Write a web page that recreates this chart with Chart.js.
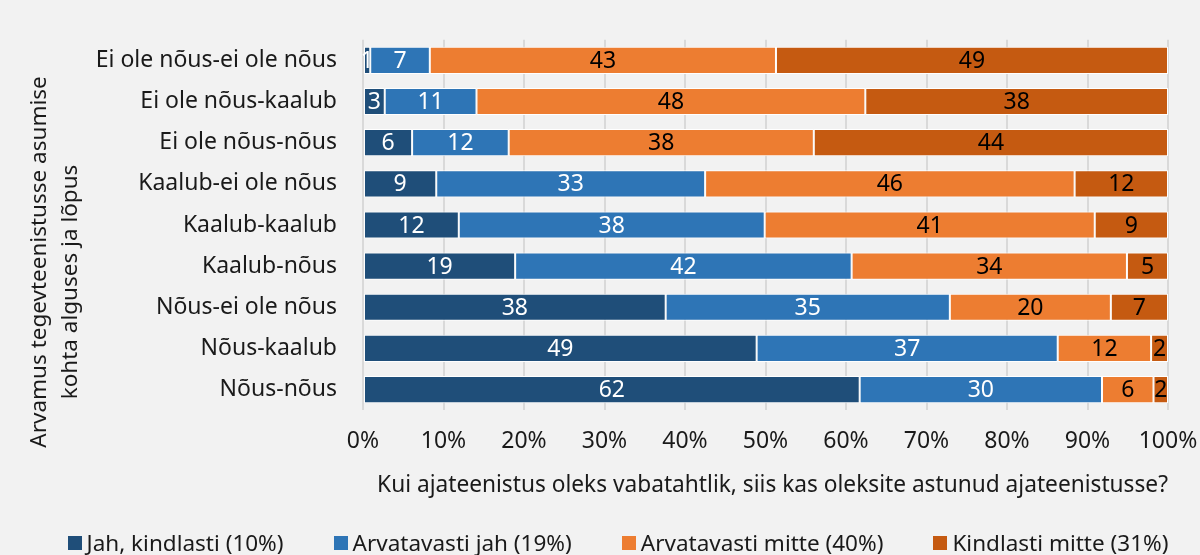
<!DOCTYPE html>
<html>
<head>
<meta charset="utf-8">
<script src="https://cdn.jsdelivr.net/npm/chart.js@4"></script>
<style>
  html, body { margin: 0; padding: 0; background: #f2f2f2; }
  #wrap { position: relative; width: 1200px; height: 555px; overflow: hidden; }
  #chart { display: block; }
  #legend {
    position: absolute; left: 36px; top: 528px; width: 1164px; height: 30px;
    display: flex; justify-content: center; gap: 50px;
    font-family: 'Noto Sans', 'Open Sans', sans-serif; font-size: 22.5px;
    line-height: 30px; color: #1a1a1a; white-space: nowrap;
  }
  #legend .item { display: flex; align-items: center; }
  #legend .box { width: 14px; height: 14px; margin-right: 5px; }
</style>
</head>
<body>
<div id="wrap">
  <canvas id="chart" width="1200" height="555"></canvas>
  <div id="legend"></div>
</div>
<script>
// Categories (top to bottom)
const categories = [
  "Ei ole nõus-ei ole nõus",
  "Ei ole nõus-kaalub",
  "Ei ole nõus-nõus",
  "Kaalub-ei ole nõus",
  "Kaalub-kaalub",
  "Kaalub-nõus",
  "Nõus-ei ole nõus",
  "Nõus-kaalub",
  "Nõus-nõus"
];

// Series shares in percent
const jahKindlasti = [0.9, 2.7, 6.1, 9.1, 11.9, 18.9, 37.6, 48.9, 61.7];
const arvatavastiJah = [7.4, 11.4, 12.0, 33.4, 38.0, 41.8, 35.3, 37.4, 30.1];
const arvatavastiMitte = [43.0, 48.3, 37.9, 45.9, 41.0, 34.2, 20.0, 11.6, 6.4];
const kindlastiMitte = [48.7, 37.6, 44.0, 11.6, 9.1, 5.1, 7.1, 2.1, 1.8];

const seriesNames = [
  "Jah, kindlasti (10%)",
  "Arvatavasti jah (19%)",
  "Arvatavasti mitte (40%)",
  "Kindlasti mitte (31%)"
];
const seriesColors = ["#1f4e79", "#2e75b6", "#ed7d31", "#c55a11"];
const labelColors = ["#ffffff", "#ffffff", "#000000", "#000000"];

const xTicks = [0, 10, 20, 30, 40, 50, 60, 70, 80, 90, 100];
const yTitleLines = ["Arvamus tegevteenistusse asumise", "kohta alguses ja lõpus"];

const fontFamily = "'Noto Sans', 'Open Sans', sans-serif";
const textColor = "#1a1a1a";
const fontSize = 23;

// Draw the rounded value in the middle of each bar segment
const barLabels = {
  id: "barLabels",
  afterDatasetsDraw(chart) {
    const ctx = chart.ctx;
    ctx.save();
    ctx.font = fontSize + "px " + fontFamily;
    ctx.textAlign = "center";
    ctx.textBaseline = "middle";
    chart.data.datasets.forEach((ds, i) => {
      const meta = chart.getDatasetMeta(i);
      meta.data.forEach((bar, j) => {
        const p = bar.getCenterPoint();
        ctx.fillStyle = labelColors[i];
        ctx.fillText(Math.round(ds.data[j]), p.x, p.y + 1);
      });
    });
    ctx.restore();
  }
};

// Two-line rotated title on the left, sits a bit lower than the plot centre
const yTitle = {
  id: "yTitle",
  afterDraw(chart) {
    const ctx = chart.ctx;
    const midY = (chart.chartArea.top + chart.chartArea.bottom) / 2;
    const xs = [40, 71];
    const ys = [midY + 37, midY + 57];
    ctx.save();
    ctx.font = "22.5px " + fontFamily;
    ctx.fillStyle = textColor;
    ctx.textAlign = "center";
    ctx.textBaseline = "middle";
    yTitleLines.forEach((line, i) => {
      ctx.save();
      ctx.translate(xs[i], ys[i]);
      ctx.rotate(-Math.PI / 2);
      ctx.fillText(line, 0, 0);
      ctx.restore();
    });
    ctx.restore();
  }
};

const datasets = [jahKindlasti, arvatavastiJah, arvatavastiMitte, kindlastiMitte].map((values, i) => ({
  label: seriesNames[i],
  data: values,
  backgroundColor: seriesColors[i],
  borderColor: "#ffffff",
  borderWidth: 1,
  borderSkipped: false,
  barPercentage: 0.66,
  categoryPercentage: 1.0
}));

// Legend below the chart, built from the series arrays
const legendEl = document.getElementById("legend");
seriesNames.forEach((name, i) => {
  const item = document.createElement("span");
  item.className = "item";
  const box = document.createElement("span");
  box.className = "box";
  box.style.background = seriesColors[i];
  item.appendChild(box);
  item.appendChild(document.createTextNode(name));
  legendEl.appendChild(item);
});

new Chart(document.getElementById("chart"), {
  type: "bar",
  data: { labels: categories, datasets: datasets },
  plugins: [barLabels, yTitle],
  options: {
    indexAxis: "y",
    responsive: false,
    animation: false,
    layout: { autoPadding: false, padding: { top: 38, right: 32, bottom: 56, left: 22 } },
    plugins: {
      legend: { display: false },
      tooltip: { enabled: false }
    },
    scales: {
      x: {
        stacked: true,
        min: 0,
        max: 100,
        afterBuildTicks(scale) {
          scale.ticks = xTicks.map((v) => ({ value: v }));
        },
        afterFit(scale) {
          // let the 100% label hang past the plot like the original
          scale.paddingLeft = 0;
          scale.paddingRight = 0;
        },
        ticks: {
          color: textColor,
          font: { family: fontFamily, size: fontSize },
          padding: 17,
          maxRotation: 0,
          callback: (v) => v + "%"
        },
        grid: { color: "#d9d9d9", lineWidth: 2, drawTicks: false },
        border: { display: false },
        title: {
          display: true,
          align: "end",
          text: "Kui ajateenistus oleks vabatahtlik, siis kas oleksite astunud ajateenistusse?",
          color: textColor,
          font: { family: fontFamily, size: 22.7 },
          padding: { top: 0, bottom: 0 }
        }
      },
      y: {
        stacked: true,
        afterFit(scale) { scale.width = 341; },
        ticks: {
          color: textColor,
          font: { family: fontFamily, size: fontSize },
          padding: 26
        },
        grid: { display: false, drawTicks: false },
        border: { display: false }
      }
    }
  }
});
</script>
</body>
</html>
